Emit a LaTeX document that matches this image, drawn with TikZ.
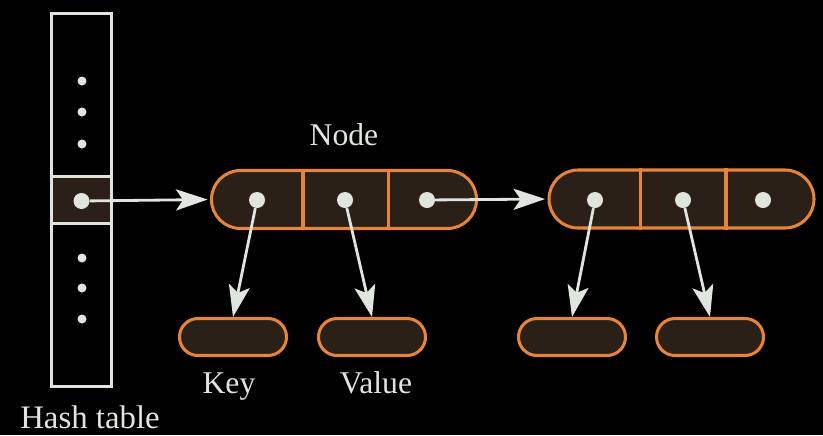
\documentclass[tikz,border=0pt]{standalone}
\usepackage{fontspec}
\setmainfont{Liberation Serif}
\usepackage{xcolor}
\usetikzlibrary{arrows.meta,positioning,calc}
\definecolor{bucketcolor}{HTML}{DFE4DC}
\definecolor{cellcolor}{HTML}{E8843A}
\definecolor{cellfill}{HTML}{2A2018}
\definecolor{inkcolor}{HTML}{E0E5DF}

\begin{document}
\begin{tikzpicture}[
    x=0.03cm, y=-0.03cm,
    table/.style={draw=bucketcolor, line width=2.4pt, minimum width=1.8cm, minimum height=11.19cm, inner sep=0pt},
    slot/.style={draw=bucketcolor, fill=cellfill, line width=2.4pt, minimum width=1.8cm, minimum height=1.41cm, inner sep=0pt},
    entry/.style={draw=cellcolor, fill=cellfill, line width=2.6pt, rounded corners=0.87cm, minimum width=7.95cm, minimum height=1.74cm, inner sep=0pt},
    field/.style={draw=cellcolor, fill=cellfill, line width=2.6pt, rounded corners=0.555cm, minimum width=3.21cm, minimum height=1.11cm, inner sep=0pt},
    divider/.style={draw=cellcolor, line width=2.6pt},
    ptr/.style={circle, fill=inkcolor, minimum size=0.48cm, inner sep=0pt},
    dot/.style={circle, fill=inkcolor, minimum size=0.27cm, inner sep=0pt},
    label/.style={text=inkcolor, font=\fontsize{27}{30}\selectfont, anchor=base, inner sep=0pt},
    arrow/.style={-{Stealth[length=27pt, width=18pt, inset=6pt]}, draw=inkcolor, line width=2.4pt}
]
    \fill[black] (0,0) rectangle (823,435);
    \useasboundingbox (0,0) rectangle (823,435);

    % hash table with the used bucket
    \node[table] (ht) at (81.5,200) {};
    \node[slot] (bucket) at (81.5,200) {};
    \node[ptr] (head) at (81.5,201) {};
    \node[dot] (dota) at (82,81) {};
    \node[dot] (dotb) at (82,112) {};
    \node[dot] (dotc) at (82,144) {};
    \node[dot] (dotd) at (82,258) {};
    \node[dot] (dote) at (82,288) {};
    \node[dot] (dotf) at (82,319) {};

    % list nodes
    \node[entry] (first) at (344,199.5) {};
    \node[entry] (second) at (681.5,199) {};
    \foreach \n in {first,second} {
        \draw[divider] ($(\n.north west)!0.347!(\n.north east)$) -- ($(\n.south west)!0.347!(\n.south east)$);
        \draw[divider] ($(\n.north west)!0.666!(\n.north east)$) -- ($(\n.south west)!0.666!(\n.south east)$);
    }
    \node[ptr] (firstkey) at (257,200) {};
    \node[ptr] (firstval) at (345,200) {};
    \node[ptr] (firstnext) at (427,200) {};
    \node[ptr] (secondkey) at (595,200) {};
    \node[ptr] (secondval) at (683,200) {};
    \node[ptr] (secondnext) at (763,200) {};

    % key and value objects
    \node[field] (key) at (233,337) {};
    \node[field] (value) at (372,337) {};
    \node[field] (key2) at (572,337) {};
    \node[field] (value2) at (710,337) {};

    \node[label] (nodelbl) at (344,145) {Node};
    \node[label] (keylbl) at (229,393) {Key};
    \node[label] (valuelbl) at (376,393) {Value};
    \node[label, font=\fontsize{28}{31}\selectfont] (htlbl) at (90,428) {Hash table};

    \draw[arrow, shorten >=2pt] (head) -- (first.west);
    \draw[arrow, shorten >=2pt] (firstnext) -- (second.west);
    \draw[arrow] (firstkey) -- (key.north);
    \draw[arrow] (firstval) -- (value.north);
    \draw[arrow] (secondkey) -- (key2.north);
    \draw[arrow] (secondval) -- (value2.north);
\end{tikzpicture}
\end{document}
